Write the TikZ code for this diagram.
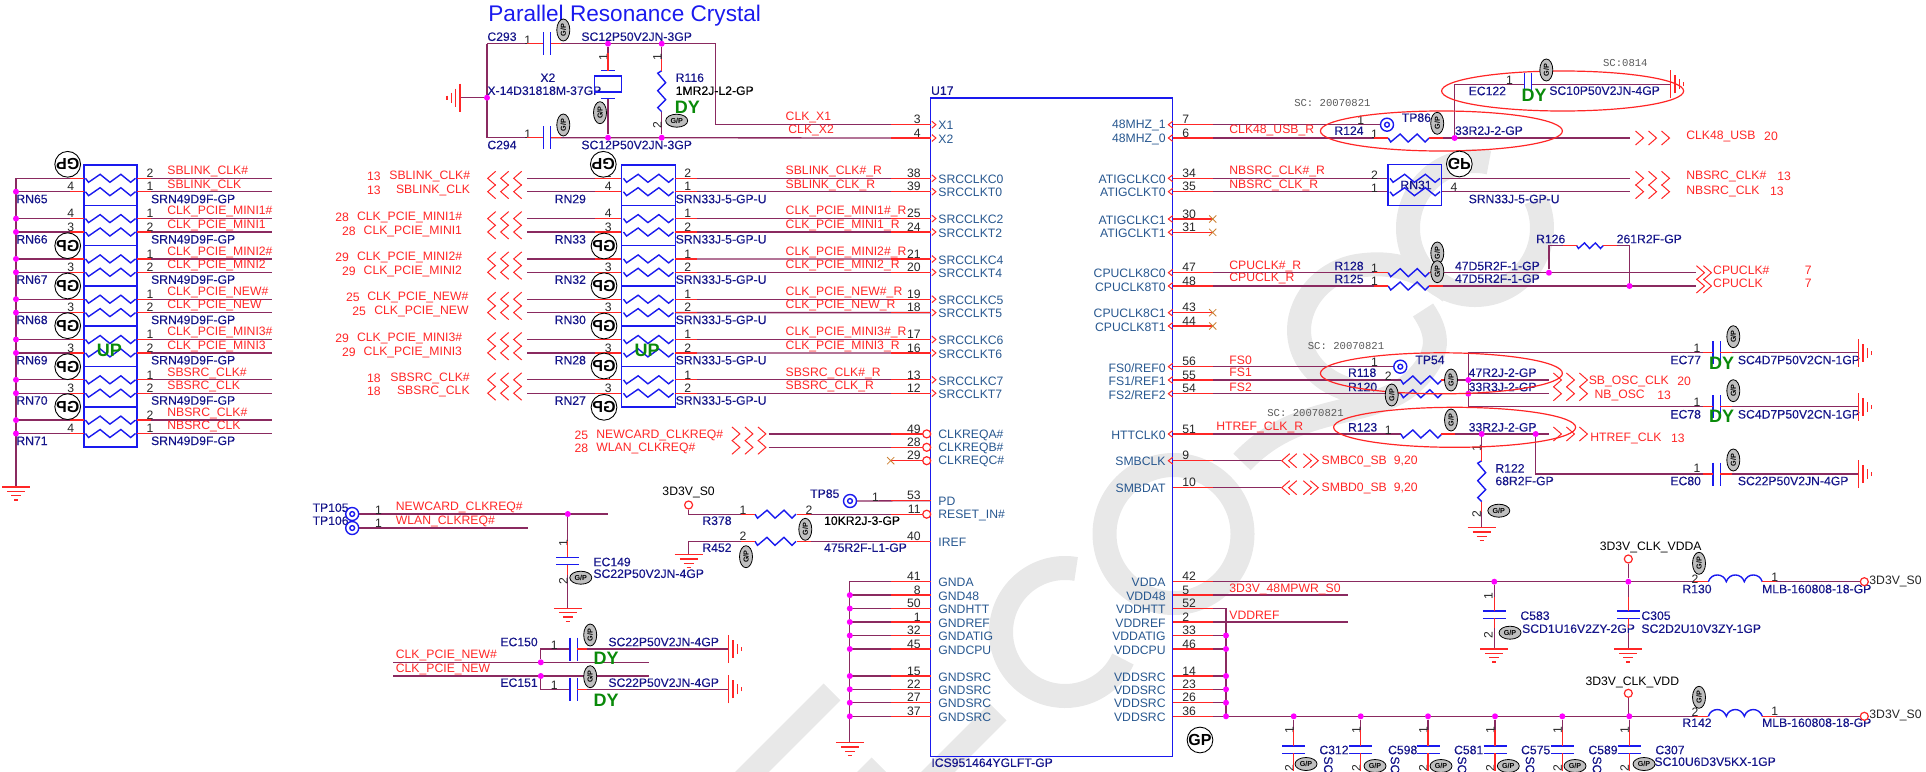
\documentclass[tikz,border=0pt]{standalone}
\usepackage{fontspec}
\setmainfont{Liberation Sans}
\newfontfamily\scfont{Liberation Mono}
\newfontfamily\reffont[FakeBold=0.2]{Liberation Sans}
\usetikzlibrary{shapes.geometric,shapes.misc,backgrounds}
\definecolor{wirec}{HTML}{8A2A60}
\definecolor{redc}{HTML}{FF2626}
\definecolor{navyc}{HTML}{15158A}
\definecolor{pinc}{HTML}{27578F}
\definecolor{bluec}{HTML}{1A1AEE}
\definecolor{greenc}{HTML}{0A8A0A}
\definecolor{dotc}{HTML}{FF00FF}
\begin{document}
\begin{tikzpicture}[
    x=0.5pt, y=-0.5pt,
    every node/.style={inner sep=0pt, font=\fontsize{6.1}{7}\selectfont},
    wire/.style={draw=wirec, line width=0.65pt},
    stub/.style={draw=redc, line width=0.65pt},
    res/.style={draw=bluec, line width=0.7pt},
    net/.style={anchor=west, text=redc},
    ref/.style={anchor=west, text=navyc, font=\reffont\fontsize{6.1}{7}\selectfont},
    blk/.style={anchor=west, text=black, font=\reffont\fontsize{6.1}{7}\selectfont},
    num/.style={text=black!85},
    pinname/.style={text=pinc},
    dot/.style={circle, fill=dotc, minimum size=3pt},
    rnbox/.style={rectangle, draw=bluec, line width=0.75pt, minimum height=20.15pt},
    chip/.style={rectangle, draw=bluec, line width=0.75pt, minimum width=121pt, minimum height=329.35pt},
    bigstamp/.style={circle, draw=black, line width=0.45pt, fill=white, minimum size=12.5pt, font=\fontsize{8}{9}\selectfont\bfseries},
    smallstamp/.style={ellipse, draw=black, line width=0.4pt, fill=black!25, minimum width=11pt, minimum height=6.5pt, font=\fontsize{3.6}{4}\selectfont\bfseries},
    tp/.style={circle, draw=bluec, line width=0.7pt, minimum size=6.5pt},
    pring/.style={circle, draw=redc, line width=0.6pt, fill=white, minimum size=4pt},
    xmark/.style={cross out, draw=brown!80!orange, line width=0.4pt, minimum size=3.2pt},
    halo/.style={ellipse, draw=redc, line width=0.6pt, minimum width=121pt},
    green/.style={text=greenc, font=\fontsize{9}{10}\selectfont\bfseries},
    note/.style={text=black!65, font=\scfont\fontsize{5.3}{6}\selectfont},
    wmark/.style={draw=black!9, line width=12pt},
    zigr/.pic={\draw[res] (0,0) -- (2.5,4) -- (12,-4) -- (20,4) -- (29,-4) -- (37,4) -- (41,0);},
    coil/.pic={\draw[res] (0,0) .. controls (3,-9) and (15,-9) .. (18,0) .. controls (21,-9) and (33,-9) .. (36,0) .. controls (39,-9) and (51,-9) .. (54,0);},
    capc/.pic={\draw[res] (-3.7,-11.5) -- (-3.7,11.5); \draw[res] (3.7,-11.5) -- (3.7,11.5);},
    gnd/.pic={\draw[stub] (-14,0) -- (14,0); \draw[stub] (-9,4.3) -- (9,4.3); \draw[stub] (-5,8.7) -- (5,8.7); \draw[stub] (-2,13) -- (2,13);},
    tri/.pic={\foreach \k in {0,13,26}{\draw[stub, line width=0.5pt] (\k,-7) -- (\k+8,0) -- (\k,7);}},
    duo/.pic={\foreach \k in {0,7}{\draw[stub, line width=0.5pt] (\k,-7) -- (\k+8,0) -- (\k,7);}},
]
\useasboundingbox (0,0) rectangle (1926,771);

% Watermark
\begin{scope}[on background layer]
\draw[wmark] (832,692) -- (735,789);
\draw[wmark] (998,712) -- (920,790);
\draw[wmark] (880,766) -- (850,796);
\draw[wmark] ([shift={(80:32pt)}]1065,632) arc (80:335:32pt);
\draw[wmark] (1173.5,534) circle (34.5pt);
\draw[wmark] ([shift={(78:33.5pt)}]1475,228) arc (78:385:33.5pt);
\draw[wmark] (1450,292) .. controls (1420,268) and (1390,262) .. (1365,265) .. controls (1325,268) and (1299,300) .. (1299,330) .. controls (1299,365) and (1330,392) .. (1375,394);
\draw[wmark] (1242,462) .. controls (1300,400) and (1375,420) .. (1415,380) .. controls (1440,355) and (1440,335) .. (1423,310);
\end{scope}

% Chip
\node[chip] (U17) at (1051.7,427.35) {};
\node[ref] (u17ref) at (930.7,90.7) {U17};
\node[ref] (u17part) at (931,762.7) {ICS951464YGLFT-GP};

% Left pins
\foreach \n/\y/\txt in {3/124.7/X1,4/138/X2,38/178.3/SRCCLKC0,39/191.7/SRCCLKT0,25/218.6/SRCCLKC2,24/232/SRCCLKT2,21/259/SRCCLKC4,20/272.3/SRCCLKT4,19/299.2/SRCCLKC5,18/312.6/SRCCLKT5,17/339.5/SRCCLKC6,16/353/SRCCLKT6,13/379.8/SRCCLKC7,12/393.2/SRCCLKT7,49/433.9/CLKREQA\#,28/447.3/CLKREQB\#,29/460.7/CLKREQC\#,53/500.7/PD,11/514.2/RESET\_IN\#,40/541.3/IREF,41/581.7/GNDA,8/595.1/GND48,50/608.5/GNDHTT,1/622/GNDREF,32/635.5/GNDATIG,45/649/GNDCPU,15/676/GNDSRC,22/689.3/GNDSRC,27/702.7/GNDSRC,37/716.3/GNDSRC}{
    \coordinate (pin\n) at (930.7,\y);
    \draw[stub] (pin\n) -- ++(-40,0);
    \node[pinname, anchor=west] (nm\n) at (938,\y+1) {\txt};
    \node[num, anchor=east] (no\n) at (921,\y-5) {\n};
}
\foreach \n in {3,4,38,39,25,24,21,20,19,18,17,16,13,12}{
    \draw[stub, line width=0.5pt] ([xshift=0.6pt,yshift=1.7pt]pin\n) -- ([xshift=2.6pt]pin\n) -- ([xshift=0.6pt,yshift=-1.7pt]pin\n);
}
\foreach \n in {49,28,29,11}{
    \node[pring] (rg\n) at ([xshift=-2pt]pin\n) {};
}

% Right pins
\foreach \n/\y/\txt in {7/124.7/48MHZ\_1,6/138/48MHZ\_0,34/178.3/ATIGCLKC0,35/191.7/ATIGCLKT0,30/219/ATIGCLKC1,31/232.3/ATIGCLKT1,47/272.7/CPUCLK8C0,48/286/CPUCLK8T0,43/312.7/CPUCLK8C1,44/326/CPUCLK8T1,56/366.7/FS0{/}REF0,55/380/FS1{/}REF1,54/393.7/FS2{/}REF2,51/434/HTTCLK0,9/460.7/SMBCLK,10/487.7/SMBDAT,42/581.7/VDDA,5/595.1/VDD48,52/608.5/VDDHTT,2/622/VDDREF,33/635.5/VDDATIG,46/649/VDDCPU,14/676/VDDSRC,23/689.3/VDDSRC,26/702.7/VDDSRC,36/716.3/VDDSRC}{
    \coordinate (pin\n) at (1172.7,\y);
    \draw[stub] (pin\n) -- ++(40,0);
    \node[pinname, anchor=east] (nm\n) at (1166,\y+1) {\txt};
    \node[num, anchor=west] (no\n) at (1182,\y-5) {\n};
}
\foreach \n in {7,6,34,35,30,31,47,48,43,44,56,55,54,51,9}{
    \draw[stub, line width=0.5pt] ([yshift=1.7pt]pin\n) -- ([xshift=-2.2pt]pin\n) -- ([yshift=-1.7pt]pin\n);
}
\foreach \n in {30,31,43,44}{
    \node[xmark] (xr\n) at ([xshift=20pt]pin\n) {};
}
\node[xmark] (xl29) at ([xshift=-20pt]pin29) {};

% Left resistor block
\foreach \rn/\ya/\la/\lb/\ra/\rb/\ta/\tb in {
    65/178.3/3/4/2/1/SBLINK\_CLK\#/SBLINK\_CLK,
    66/218.6/4/3/1/2/CLK\_PCIE\_MINI1\#/CLK\_PCIE\_MINI1,
    67/258.9/4/3/1/2/CLK\_PCIE\_MINI2\#/CLK\_PCIE\_MINI2,
    68/299.2/4/3/1/2/CLK\_PCIE\_NEW\#/CLK\_PCIE\_NEW,
    69/339.5/4/3/1/2/CLK\_PCIE\_MINI3\#/CLK\_PCIE\_MINI3,
    70/379.8/4/3/1/2/SBSRC\_CLK\#/SBSRC\_CLK,
    71/420.1/3/4/2/1/NBSRC\_CLK\#/NBSRC\_CLK}{
    \pgfmathsetmacro\yb{\ya+13.4}
    \node[rnbox, minimum width=26.5pt] (RN\rn) at (110.5,\ya+6.85) {};
    \coordinate (sa\rn) at (16,\ya);    \coordinate (sb\rn) at (16,\yb);
    \coordinate (la\rn) at (84,\ya);    \coordinate (lb\rn) at (84,\yb);
    \coordinate (ra\rn) at (137,\ya);   \coordinate (rb\rn) at (137,\yb);
    \coordinate (ea\rn) at (272,\ya);   \coordinate (eb\rn) at (272,\yb);
    \begin{scope}[on background layer]
    \draw[wire] (sa\rn) -- (la\rn);  \draw[wire] (sb\rn) -- (lb\rn);
    \draw[wire] (ra\rn) -- (ea\rn);  \draw[wire] (rb\rn) -- (eb\rn);
    \end{scope}
    \draw[stub] (la\rn) -- ++(-14,0);  \draw[stub] (lb\rn) -- ++(-14,0);
    \draw[stub] (ra\rn) -- ++(14,0);   \draw[stub] (rb\rn) -- ++(14,0);
    \pic[xscale=1.22] at (85.5,\ya) {zigr};
    \pic[xscale=1.22] at (85.5,\yb) {zigr};
    \node[num] (n\rn la) at (70.7,\ya-5) {\la};
    \node[num] (n\rn lb) at (70.7,\yb-5) {\lb};
    \node[num] (n\rn ra) at (150,\ya-5) {\ra};
    \node[num] (n\rn rb) at (150,\yb-5) {\rb};
    \node[net] (t\rn a) at (167,\ya-6.7) {\ta};
    \node[net] (t\rn b) at (167,\yb-6.7) {\tb};
    \node[ref] (rf\rn) at (16,\yb+7.3) {RN\rn};
    \node[ref] (pt\rn) at (150.7,\yb+7.3) {SRN49D9F-GP};
}
\coordinate (railend) at (16,487);
\draw[wire] (sa65) -- (railend);
\pic at (railend) {gnd};
\foreach \y [count=\i] in {191.7,218.6,232,258.9,272.3,299.2,312.6,339.5,352.9,379.8,393.2,420.1,433.5}{
    \node[dot] (jl\i) at (16,\y) {};
}
\node[green] (upa) at (109.3,350) {UP};

% Middle resistor block
\foreach \rn/\ya/\la/\lb/\ra/\rb/\pa/\pb/\ta/\tb in {
    29/178.3/2/4/2/1/38/39/SBLINK\_CLK\#\_R/SBLINK\_CLK\_R,
    33/218.6/4/3/1/2/25/24/CLK\_PCIE\_MINI1\#\_R/CLK\_PCIE\_MINI1\_R,
    32/258.9/4/3/1/2/21/20/CLK\_PCIE\_MINI2\#\_R/CLK\_PCIE\_MINI2\_R,
    30/299.2/4/3/1/2/19/18/CLK\_PCIE\_NEW\#\_R/CLK\_PCIE\_NEW\_R,
    28/339.5/4/3/1/2/17/16/CLK\_PCIE\_MINI3\#\_R/CLK\_PCIE\_MINI3\_R,
    27/379.8/4/3/1/2/13/12/SBSRC\_CLK\#\_R/SBSRC\_CLK\_R}{
    \pgfmathsetmacro\yb{\ya+13.4}
    \node[rnbox, minimum width=27pt] (RN\rn) at (648.3,\ya+6.85) {};
    \coordinate (sa\rn) at (527,\ya);   \coordinate (sb\rn) at (527,\yb);
    \coordinate (la\rn) at (621.3,\ya); \coordinate (lb\rn) at (621.3,\yb);
    \coordinate (ra\rn) at (675.3,\ya); \coordinate (rb\rn) at (675.3,\yb);
    \begin{scope}[on background layer]
    \draw[wire] (sa\rn) -- (la\rn);  \draw[wire] (sb\rn) -- (lb\rn);
    \draw[wire] (ra\rn) -- (pin\pa); \draw[wire] (rb\rn) -- (pin\pb);
    \end{scope}
    \draw[stub] (la\rn) -- ++(-26,0);  \draw[stub] (lb\rn) -- ++(-26,0);
    \draw[stub] (ra\rn) -- ++(22,0);   \draw[stub] (rb\rn) -- ++(22,0);
    \pic[xscale=1.22] at (623.5,\ya) {zigr};
    \pic[xscale=1.22] at (623.5,\yb) {zigr};
    \pic[xscale=-1] at (521.7,\ya) {tri};
    \pic[xscale=-1] at (521.7,\yb) {tri};
    \node[num] (n\rn la) at (608.3,\ya-5) {\la};
    \node[num] (n\rn lb) at (608.3,\yb-5) {\lb};
    \node[num] (n\rn ra) at (687.7,\ya-5) {\ra};
    \node[num] (n\rn rb) at (687.7,\yb-5) {\rb};
    \node[net] (t\rn a) at (785.3,\ya-6.7) {\ta};
    \node[net] (t\rn b) at (785.3,\yb-6.7) {\tb};
    \node[ref] (rf\rn) at (554.3,\yb+7.3) {RN\rn};
    \node[ref] (pt\rn) at (675.3,\yb+7.3) {SRN33J-5-GP-U};
}
\node[green] (upb) at (647,350) {UP};

% Nets with page numbers
\foreach \nx/\tx/\y/\no/\txt [count=\i] in {
    366.7/389/176.7/13/SBLINK\_CLK\#,
    366.7/395.7/190.7/13/SBLINK\_CLK,
    335/356.7/217.7/28/CLK\_PCIE\_MINI1\#,
    341.7/363.3/231/28/CLK\_PCIE\_MINI1,
    335/356.7/257.7/29/CLK\_PCIE\_MINI2\#,
    341.7/363.3/271/29/CLK\_PCIE\_MINI2,
    345.7/367/297.7/25/CLK\_PCIE\_NEW\#,
    352/374/311.7/25/CLK\_PCIE\_NEW,
    335/356.7/338.7/29/CLK\_PCIE\_MINI3\#,
    341.7/363.3/352/29/CLK\_PCIE\_MINI3,
    366.7/390/378.7/18/SBSRC\_CLK\#,
    366.7/396.7/391.7/18/SBSRC\_CLK,
    574.3/596/435/25/NEWCARD\_CLKREQ\#,
    574.3/596/448.7/28/WLAN\_CLKREQ\#,
    1763.8/1685.9/136.7/20/CLK48\_USB,
    1777/1685.9/176.7/13/NBSRC\_CLK\#,
    1769.7/1685.9/191/13/NBSRC\_CLK,
    1804.4/1712.8/270/7/CPUCLK\#,
    1804.4/1712.8/283/7/CPUCLK,
    1677/1588.4/381/20/SB\_OSC\_CLK,
    1656.9/1594.2/395/13/NB\_OSC,
    1670.6/1590/438/13/HTREF\_CLK,
    1393.5/1321.3/461/{9,20}/SMBC0\_SB,
    1393.5/1321.3/488/{9,20}/SMBD0\_SB}{
    \node[net] (pn\i) at (\nx,\y) {\no};
    \node[net] (pt\i) at (\tx,\y) {\txt};
}

% Other net names
\foreach \x/\y/\txt [count=\i] in {
    785.3/117.7/CLK\_X1, 788/130.7/CLK\_X2,
    395.5/507.7/NEWCARD\_CLKREQ\#, 395.5/521/WLAN\_CLKREQ\#,
    395.5/655.7/CLK\_PCIE\_NEW\#, 395.5/669/CLK\_PCIE\_NEW,
    1229/130.7/CLK48\_USB\_R, 1229/171.7/NBSRC\_CLK\#\_R, 1229/185/NBSRC\_CLK\_R,
    1229/266/CPUCLK\#\_R, 1229/278.7/CPUCLK\_R,
    1229/360/FS0, 1229/372.7/FS1, 1229/387/FS2, 1216/427.3/HTREF\_CLK\_R,
    1229/589/3D3V\_48MPWR\_S0, 1229/615.7/VDDREF}{
    \node[net] (nn\i) at (\x,\y) {\txt};
}

% Part labels
\foreach \x/\y/\txt [count=\i] in {
    487/36.7/C293, 581/36.7/SC12P50V2JN-3GP, 487/145/C294, 581/145/SC12P50V2JN-3GP,
    540/77.7/X2, 487/90.7/X-14D31818M-37GP, 675.3/77.7/R116,
    312.2/507.7/TP105, 312.2/520.7/TP106, 593/562/EC149, 593/573.7/SC22P50V2JN-4GP,
    809.8/493.7/TP85, 702/520.7/R378, 702/547.7/R452, 823.7/547.7/475R2F-L1-GP,
    500/642/EC150, 500/682.7/EC151, 608/642/SC22P50V2JN-4GP, 608/682.7/SC22P50V2JN-4GP,
    1334/130.7/R124, 1401.4/117.7/TP86, 1454.6/130.7/33R2J-2-GP,
    1468.3/91/EC122, 1548.9/90.7/SC10P50V2JN-4GP,
    1468.3/199/SRN33J-5-GP-U, 1334/266/R128, 1334/279/R125,
    1454.6/266/47D5R2F-1-GP, 1454.6/278.7/47D5R2F-1-GP,
    1535.7/239/R126, 1616.3/239/261R2F-GP,
    1415/360/TP54, 1347.6/372.7/R118, 1347.6/387/R120,
    1468.3/372.7/47R2J-2-GP, 1468.3/387/33R3J-2-GP,
    1347.6/427.3/R123, 1468.3/427.3/33R2J-2-GP,
    1495/468.3/R122, 1495/481/68R2F-GP,
    1670/360/EC77, 1737.5/360/SC4D7P50V2CN-1GP,
    1670/414.3/EC78, 1737.5/414.3/SC4D7P50V2CN-1GP,
    1670/481/EC80, 1737.5/481/SC22P50V2JN-4GP,
    1520/615.7/C583, 1521.7/628.7/SCD1U16V2ZY-2GP,
    1641/615.7/C305, 1641/628.7/SC2D2U10V3ZY-1GP,
    1682/589/R130, 1761.7/589/MLB-160808-18-GP,
    1682/722.7/R142, 1761.7/722.7/MLB-160808-18-GP,
    1319/750/C312, 1387.7/750/C598, 1453.7/750/C581, 1520.7/750/C575, 1588/750/C589, 1655/750/C307,
    1654/761.7/SC10U6D3V5KX-1GP}{
    \node[ref] (pl\i) at (\x,\y) {\txt};
}
\node[ref, anchor=center] (rn31t) at (1416,185) {RN31};

% Black labels
\foreach \x/\y/\txt [count=\i] in {
    675.3/90.7/1MR2J-L2-GP, 823.7/520.7/10KR2J-3-GP}{
    \node[blk] (bl\i) at (\x,\y) {\txt};
}
\node[num, anchor=west] (bs1) at (1869,581) {3D3V\_S0};
\node[num, anchor=west] (bs2) at (1869,715) {3D3V\_S0};
\node[text=black] (pwra) at (688.6,492) {3D3V\_S0};
\node[text=black] (pwrb) at (1650.7,547.7) {3D3V\_CLK\_VDDA};
\node[text=black] (pwrc) at (1632.3,682.7) {3D3V\_CLK\_VDD};

% Rotated part text
\foreach \x [count=\i] in {1328.3,1395,1462,1530,1597}{
    \node[ref, rotate=-90, anchor=west] (sc\i) at (\x,756) {SC};
}

% Pin numbers
\foreach \x/\y/\t [count=\i] in {
    527.7/40.7/1, 527.7/134.3/1, 378.4/510/1, 378.4/523.5/1,
    742.9/510/1, 809/510/2, 742.9/536.7/2, 875.5/497/1,
    554.3/645/1, 554.3/685/1, 1360.8/120/1, 1374.5/134/1,
    1374.5/175/2, 1374.5/188/1, 1454/187.7/4,
    1374.5/268/1, 1374.5/281.7/1, 1374.5/362.7/1, 1388.2/376/2, 1388.2/430/1,
    1509.4/80/1, 1697/348.3/1, 1697/402/1, 1697/468.3/1,
    1774.7/577.7/1, 1695/579/2, 1774.7/711/1, 1695/712/2}{
    \node[num] (pa\i) at (\x,\y) {\t};
}
\foreach \x/\y/\t [count=\i] in {
    603.3/57.3/1, 657.3/57.3/1, 657.3/125/2, 563.3/542.7/1, 563.3/581/2,
    1476.7/447.7/1, 1476.7/514.3/2, 1488.3/595.7/1, 1488.3/635/2,
    1289.3/730/1, 1356.3/730/1, 1423.3/730/1, 1490.3/730/1, 1557.7/730/1, 1624.7/730/1,
    1289.3/768/2, 1356.3/768/2, 1423.3/768/2, 1490.3/768/2, 1557.7/768/2, 1624.7/768/2}{
    \node[num, rotate=90] (pb\i) at (\x,\y) {\t};
}

% Crystal
\node[text=bluec, anchor=west, font=\fontsize{11.3}{13}\selectfont] (title) at (488,16) {Parallel Resonance Crystal};
\coordinate (xtl) at (487,43.7);
\coordinate (xbl) at (487,137.7);
\coordinate (xgm) at (460,97.7);
\coordinate (xtr) at (715.3,43.7);
\coordinate (xtd) at (715.3,124.7);
\node[dot] (jxg) at (487,97.7) {};
\node[dot] (jxa) at (608,43.7) {};
\node[dot] (jxb) at (661.7,43.7) {};
\node[dot] (jxc) at (608,137.7) {};
\node[dot] (jxd) at (661.7,137.7) {};
\coordinate (c293) at (547,43.7);
\coordinate (c294) at (547,137.7);
\pic at (c293) {capc};
\pic at (c294) {capc};
\pic[rotate=-90] at (xgm) {gnd};
\coordinate (xup) at (608,70.7);
\coordinate (xlo) at (608,98.3);
\node[draw=bluec, line width=0.7pt, minimum width=13.7pt, minimum height=8pt] (X2) at (608,84) {};
\draw[res] (601,70.7) -- (615,70.7);
\draw[res] (601,98.3) -- (615,98.3);
\coordinate (r116t) at (661.7,70.7);
\coordinate (r116b) at (661.7,111.7);
\pic[rotate=-90] at (r116t) {zigr};
\node[green] (dya) at (687.3,107.7) {DY};
\begin{scope}[on background layer]
\draw[wire] (xtl) -- (xbl);
\draw[wire] (xgm) -- (jxg);
\draw[wire] (xtl) -- ([xshift=-1.85pt]c293);
\draw[wire] ([xshift=1.85pt]c293) -- (xtr) -- (xtd) -- (pin3);
\draw[wire] (xbl) -- ([xshift=-1.85pt]c294);
\draw[wire] ([xshift=1.85pt]c294) -- (pin4);
\draw[wire] (jxa) -- (xup);
\draw[wire] (xlo) -- (jxc);
\draw[wire] (jxb) -- (r116t);
\draw[wire] (r116b) -- (jxd);
\end{scope}
\draw[stub] ([xshift=-1.85pt]c293) -- ++(-16,0);
\draw[stub] ([xshift=1.85pt]c293) -- ++(10,0);
\draw[stub] ([xshift=-1.85pt]c294) -- ++(-16,0);
\draw[stub] ([xshift=1.85pt]c294) -- ++(10,0);
\draw[stub] (xup) -- ++(0,-18);
\draw[stub] (r116t) -- ++(0,-12);

% Test points and clock requests
\node[tp] (TP105) at (352.2,514) {};
\node[tp] (TP106) at (352.2,528) {};
\node[tp] (TP85) at (850,501) {};
\foreach \n in {TP105,TP106,TP85}{ \draw[res] (\n) circle (1.2pt); }
\coordinate (w105) at (608,514);
\coordinate (w106) at (527.8,528);
\node[dot] (jec149) at (567.8,514) {};
\coordinate (ec149) at (567.8,561);
\pic[rotate=90] at (ec149) {capc};
\coordinate (gec149) at (567.8,608.3);
\pic at (gec149) {gnd};
\node[pring] (pw3) at (688.6,505) {};
\coordinate (r378c) at (688.6,514.2);
\coordinate (r378l) at (755,514.2);
\coordinate (r378r) at (797,514.2);
\coordinate (r452c) at (688.6,541.3);
\coordinate (r452l) at (755,541.3);
\coordinate (r452r) at (797,541.3);
\coordinate (gr452) at (688.6,554.7);
\pic at (r378l) {zigr};
\pic at (r452l) {zigr};
\pic at (gr452) {gnd};
\begin{scope}[on background layer]
\draw[wire] (TP105) -- (w105);
\draw[wire] (TP106) -- (w106);
\draw[wire] (jec149) -- ([yshift=1.85pt]ec149);
\draw[wire] ([yshift=-1.85pt]ec149) -- (gec149);
\draw[wire] (pw3) -- (r378c) -- (r378l);
\draw[wire] (r378r) -- (pin11);
\draw[wire] (gr452) -- (r452c) -- (r452l);
\draw[wire] (r452r) -- (pin40);
\draw[wire] (TP85) -- (pin53);
\end{scope}
\draw[stub] ([yshift=1.85pt]ec149) -- ++(0,-16);
\draw[stub] ([yshift=-1.85pt]ec149) -- ++(0,10);
\draw[stub] (r378l) -- ++(-14,0);
\draw[stub] (r378r) -- ++(14,0);
\draw[stub] (r452l) -- ++(-14,0);
\draw[stub] (r452r) -- ++(14,0);

% CLKREQ and EC150, EC151
\foreach \n in {49,28}{
    \coordinate (q\n) at ([xshift=-81pt]pin\n);
    \begin{scope}[on background layer] \draw[wire] (q\n) -- (pin\n); \end{scope}
    \pic at ([xshift=-99.4pt]pin\n) {tri};
}
\coordinate (b1l) at (393,662.3);  \coordinate (b1r) at (649,662.3);
\coordinate (b2l) at (393,676);    \coordinate (b2r) at (649,676);
\node[dot] (jb1) at (540.8,662.3) {};
\node[dot] (jb2) at (540.8,676) {};
\coordinate (t150) at (540.8,649);  \coordinate (t151) at (540.8,689.3);
\coordinate (ec150) at (573.5,649); \coordinate (ec151) at (573.5,689.3);
\coordinate (g150) at (728.6,649);  \coordinate (g151) at (728.6,689.3);
\pic at (ec150) {capc};
\pic at (ec151) {capc};
\pic[rotate=90] at (g150) {gnd};
\pic[rotate=90] at (g151) {gnd};
\begin{scope}[on background layer]
\draw[wire] (b1l) -- (b1r);
\draw[wire] (b2l) -- (b2r);
\draw[wire] (jb1) -- (t150) -- ([xshift=-1.85pt]ec150);
\draw[wire] (jb2) -- (t151) -- ([xshift=-1.85pt]ec151);
\draw[wire] ([xshift=1.85pt]ec150) -- (g150);
\draw[wire] ([xshift=1.85pt]ec151) -- (g151);
\end{scope}
\draw[stub] ([xshift=1.85pt]ec150) -- ++(10,0);
\draw[stub] ([xshift=1.85pt]ec151) -- ++(10,0);
\node[green] (dyb) at (606,658.7) {DY};
\node[green] (dyc) at (606,700) {DY};

% GND rail
\coordinate (gndt) at (849.8,581.7);
\coordinate (gndb) at (849.8,742.7);
\begin{scope}[on background layer]
\draw[wire] (pin41) -- (gndt) -- (gndb);
\foreach \n in {8,50,1,32,45,15,22,27,37}{ \draw[wire] (pin\n) -- (gndt |- pin\n); }
\end{scope}
\foreach \n in {8,50,1,32,45,15,22,27,37}{ \node[dot] (jg\n) at (gndt |- pin\n) {}; }
\pic at (gndb) {gnd};

% CLK48 and EC122
\node[tp] (TP86) at (1387,124.7) {};
\draw[res] (TP86) circle (1.2pt);
\coordinate (r124l) at (1388.2,138);
\coordinate (r124r) at (1429.3,138);
\coordinate (usbe) at (1629.5,138);
\node[dot] (j124) at (1454.6,138) {};
\coordinate (t122) at (1454.6,84.3);
\coordinate (ec122) at (1528,84.3);
\coordinate (g122) at (1670.6,84.3);
\pic at (r124l) {zigr};
\pic at (ec122) {capc};
\pic[rotate=90] at (g122) {gnd};
\pic at ([xshift=3pt]usbe) {tri};
\begin{scope}[on background layer]
\draw[wire] (pin7) -- (TP86);
\draw[wire] (pin6) -- (r124l);
\draw[wire] (r124r) -- (usbe);
\draw[wire] (j124) -- (t122) -- ([xshift=-1.85pt]ec122);
\draw[wire] ([xshift=1.85pt]ec122) -- (g122);
\end{scope}
\draw[stub] (r124l) -- ++(-14,0);
\draw[stub] (r124r) -- ++(14,0);
\node[green] (dyd) at (1534,95) {DY};
\node[note] (sca) at (1625.3,63.3) {SC:0814};
\node[note] (scb) at (1332.4,103.3) {SC: 20070821};
\node[halo, minimum height=20pt] (elA) at (1562.6,91) {};
\node[halo, minimum height=20pt] (elB) at (1441.4,131) {};

% NBSRC
\node[rnbox, minimum width=26.6pt, minimum height=20.5pt] (RN31) at (1414.8,184.8) {};
\pic[xscale=1.22] at (1390,178.3) {zigr};
\pic[xscale=1.22] at (1390,191.7) {zigr};
\coordinate (n31a) at (1629.5,178.3);
\coordinate (n31b) at (1629.5,191.7);
\pic at ([xshift=3pt]n31a) {tri};
\pic at ([xshift=3pt]n31b) {tri};
\begin{scope}[on background layer]
\draw[wire] (pin34) -- (RN31.west |- pin34);
\draw[wire] (pin35) -- (RN31.west |- pin35);
\draw[wire] (RN31.east |- pin34) -- (n31a);
\draw[wire] (RN31.east |- pin35) -- (n31b);
\end{scope}

% CPU clocks
\coordinate (r128l) at (1388.2,272.7);  \coordinate (r128r) at (1429.3,272.7);
\coordinate (r125l) at (1388.2,286);    \coordinate (r125r) at (1429.3,286);
\coordinate (cpua) at (1696.4,272.7);   \coordinate (cpub) at (1696.4,286);
\node[dot] (j126a) at (1548.9,272.7) {};
\node[dot] (j126b) at (1629.5,286) {};
\coordinate (t126a) at (1548.9,245.7);  \coordinate (t126b) at (1629.5,245.7);
\coordinate (r126l) at (1576.8,245.7);  \coordinate (r126r) at (1603.2,245.7);
\pic at (r128l) {zigr};
\pic at (r125l) {zigr};
\pic[xscale=0.64,yscale=0.7] at (r126l) {zigr};
\pic at (cpua) {duo};
\pic at (cpub) {duo};
\begin{scope}[on background layer]
\draw[wire] (pin47) -- (r128l);
\draw[wire] (pin48) -- (r125l);
\draw[wire] (r128r) -- (cpua);
\draw[wire] (r125r) -- (cpub);
\draw[wire] (j126a) -- (t126a) -- (r126l);
\draw[wire] (r126r) -- (t126b) -- (j126b);
\end{scope}
\foreach \a in {r128l,r125l}{ \draw[stub] (\a) -- ++(-14,0); }
\foreach \a in {r128r,r125r}{ \draw[stub] (\a) -- ++(14,0); }
\draw[stub] (r126l) -- ++(-14,0);
\draw[stub] (r126r) -- ++(14,0);

% FS pins
\node[tp] (TP54) at (1400.3,366.7) {};
\draw[res] (TP54) circle (1.2pt);
\coordinate (r118l) at (1400.8,380);    \coordinate (r118r) at (1441.4,380);
\coordinate (r120l) at (1400.8,393.7);  \coordinate (r120r) at (1441.4,393.7);
\coordinate (fs1e) at (1549.4,380);     \coordinate (fs2e) at (1549.4,393.7);
\node[dot] (jfa) at (1468.3,380) {};
\node[dot] (jfb) at (1468.3,393.7) {};
\coordinate (t77) at (1468.3,352.7);    \coordinate (t78) at (1468.3,406.7);
\coordinate (ec77) at (1716.7,352.7);   \coordinate (ec78) at (1716.7,406.7);
\coordinate (g77) at (1858.7,352.7);    \coordinate (g78) at (1858.7,406.7);
\pic at (r118l) {zigr};
\pic at (r120l) {zigr};
\pic at ([xshift=2pt]fs1e) {tri};
\pic at ([xshift=2pt]fs2e) {tri};
\pic at (ec77) {capc};
\pic at (ec78) {capc};
\pic[rotate=90] at (g77) {gnd};
\pic[rotate=90] at (g78) {gnd};
\begin{scope}[on background layer]
\draw[wire] (pin56) -- (TP54);
\draw[wire] (pin55) -- (r118l);
\draw[wire] (pin54) -- (r120l);
\draw[wire] (r118r) -- (fs1e);
\draw[wire] (r120r) -- (fs2e);
\draw[wire] (t77) -- (t78);
\draw[wire] (t77) -- ([xshift=-1.85pt]ec77);
\draw[wire] (t78) -- ([xshift=-1.85pt]ec78);
\draw[wire] ([xshift=1.85pt]ec77) -- (g77);
\draw[wire] ([xshift=1.85pt]ec78) -- (g78);
\end{scope}
\foreach \a in {r118r,r120r}{ \draw[stub] (\a) -- ++(14,0); }
\foreach \a in {ec77,ec78}{ \draw[stub] ([xshift=1.85pt]\a) -- ++(12,0); \draw[stub] ([xshift=-1.85pt]\a) -- ++(-10,0); }
\node[green] (dye) at (1721.7,363.3) {DY};
\node[green] (dyf) at (1721.7,416.7) {DY};
\node[note] (scc) at (1346,345.7) {SC: 20070821};
\node[note] (scd) at (1305.5,413.3) {SC: 20070821};
\node[halo, minimum height=20.5pt] (elC) at (1441.4,373.3) {};
\node[halo, minimum height=20pt] (elD) at (1454.6,427.3) {};

% HTREF
\coordinate (r123l) at (1400.8,434);    \coordinate (r123r) at (1441.4,434);
\coordinate (htte) at (1549.4,434);
\node[dot] (jha) at (1481.7,434) {};
\node[dot] (jhb) at (1535.7,434) {};
\coordinate (r122t) at (1481.7,460.7);  \coordinate (r122b) at (1481.7,501.7);
\coordinate (gr122) at (1481.7,527.7);
\coordinate (t80) at (1535.7,474);
\coordinate (ec80) at (1716.7,474);     \coordinate (g80) at (1858.7,474);
\pic at (r123l) {zigr};
\pic[rotate=-90] at (r122t) {zigr};
\pic at (gr122) {gnd};
\pic at (ec80) {capc};
\pic[rotate=90] at (g80) {gnd};
\pic at ([xshift=2pt]htte) {tri};
\begin{scope}[on background layer]
\draw[wire] (pin51) -- (r123l);
\draw[wire] (r123r) -- (htte);
\draw[wire] (jha) -- (r122t);
\draw[wire] (r122b) -- (gr122);
\draw[wire] (jhb) -- (t80) -- ([xshift=-1.85pt]ec80);
\draw[wire] ([xshift=1.85pt]ec80) -- (g80);
\end{scope}
\draw[stub] (r123r) -- ++(14,0);
\draw[stub] (r122t) -- ++(0,-12);
\draw[stub] (r122b) -- ++(0,10);
\draw[stub] ([xshift=1.85pt]ec80) -- ++(12,0);
\draw[stub] ([xshift=-1.85pt]ec80) -- ++(-10,0);

% SMBus
\foreach \n in {9,10}{
    \coordinate (sm\n) at ([xshift=54pt]pin\n);
    \begin{scope}[on background layer] \draw[wire] (pin\n) -- (sm\n); \end{scope}
    \pic[xscale=-1] at ([xshift=62pt]pin\n) {duo};
    \pic at ([xshift=65.3pt]pin\n) {duo};
}

% Power rails
\coordinate (l130) at (1708.3,581.7);   \coordinate (r130) at (1762.3,581.7);
\coordinate (l142) at (1708.3,716.3);   \coordinate (r142) at (1762.3,716.3);
\node[pring] (rgA) at (1864.3,581.7) {};
\node[pring] (rgB) at (1864.3,716.3) {};
\node[pring] (rgC) at (1628.3,559) {};
\node[pring] (rgD) at (1628.3,693.3) {};
\pic at (l130) {coil};
\pic at (l142) {coil};
\node[dot] (jc583) at (1494.3,581.7) {};
\node[dot] (jc305) at (1628.3,581.7) {};
\coordinate (c583) at (1494.3,614.7);   \coordinate (c305) at (1628.3,614.7);
\coordinate (g583) at (1494.3,649);     \coordinate (g305) at (1628.3,649);
\pic[rotate=90] at (c583) {capc};
\pic[rotate=90] at (c305) {capc};
\pic at (g583) {gnd};
\pic at (g305) {gnd};
\coordinate (v48e) at (1347.7,595.1);
\coordinate (vrefe) at (1347.7,622);
\coordinate (vt) at (1226,608.5);
\coordinate (vb) at (1226,716.3);
\begin{scope}[on background layer]
\draw[wire] (pin42) -- (l130);
\draw[wire] (r130) -- (rgA);
\draw[wire] (pin5) -- (v48e);
\draw[wire] (pin2) -- (vrefe);
\draw[wire] (pin52) -- (vt) -- (vb);
\draw[wire] (pin36) -- (l142);
\draw[wire] (r142) -- (rgB);
\draw[wire] (rgC) -- (jc305);
\draw[wire] (rgD) -- (l142 -| rgD);
\foreach \n in {33,46,14,23,26}{ \draw[wire] (pin\n) -- (vt |- pin\n); }
\draw[wire] (jc583) -- ([yshift=1.85pt]c583);
\draw[wire] (jc305) -- ([yshift=1.85pt]c305);
\draw[wire] ([yshift=-1.85pt]c583) -- (g583);
\draw[wire] ([yshift=-1.85pt]c305) -- (g305);
\end{scope}
\foreach \n in {33,46,14,23,26}{ \node[dot] (jv\n) at (vt |- pin\n) {}; }
\node[dot] (jv36) at (vb) {};
\foreach \a in {l130,l142}{ \draw[stub] (\a) -- ++(-14,0); }
\foreach \a in {r130,r142}{ \draw[stub] (\a) -- ++(14,0); }
\foreach \a in {c583,c305}{ \draw[stub] ([yshift=1.85pt]\a) -- ++(0,-14); \draw[stub] ([yshift=-1.85pt]\a) -- ++(0,10); }

% Decoupling caps
\foreach \x [count=\i] in {1293.7,1360.7,1428,1495,1562.3,1629.3}{
    \node[dot] (jd\i) at (\x,716.3) {};
    \coordinate (cd\i) at (\x,749.6);
    \coordinate (ed\i) at (\x,771);
    \pic[rotate=90] at (cd\i) {capc};
    \begin{scope}[on background layer]
    \draw[wire] (jd\i) -- ([yshift=1.85pt]cd\i);
    \draw[wire] ([yshift=-1.85pt]cd\i) -- (ed\i);
    \end{scope}
    \draw[stub] ([yshift=1.85pt]cd\i) -- ++(0,-16);
    \draw[stub] ([yshift=-1.85pt]cd\i) -- (ed\i);
}

% Stamps
\node[bigstamp] (gp0) at (1200,740) {GP};
\foreach \x/\y [count=\i] in {67.7/164.3,603.3/164.3}{
    \node[bigstamp, rotate=180] (gpa\i) at (\x,\y) {GP};
}
\foreach \x/\y [count=\i] in {67.7/245.7,67.7/286,67.7/325.7,67.7/366.7,67.7/406.7,604/246,604/285.7,604/326,604/366,604/407.3}{
    \node[bigstamp, xscale=-1] (gpb\i) at (\x,\y) {GP};
}
\node[bigstamp, yscale=-1] (gpc) at (1459.3,164) {GP};
\foreach \x/\y [count=\i] in {
    563.3/30, 563.3/125, 600/112.7, 805.3/529.3, 746/556.7, 590.2/635, 590.2/676.7,
    1699/563.3, 1699/697.3, 1546.3/70, 1437.2/123.3, 1437.3/253, 1437.3/271.7,
    1451/380, 1391.7/395, 1451/420, 1733.3/336.7, 1733.3/390.7, 1733.3/460}{
    \node[smallstamp, rotate=90] (gv\i) at (\x,\y) {G/P};
}
\foreach \x/\y [count=\i] in {
    676.7/120.7, 580.8/577.7, 1510/632.7, 1498.8/510.7,
    1306/764, 1375/766, 1441/766, 1508.3/766, 1575/766, 1644/764}{
    \node[smallstamp] (gh\i) at (\x,\y) {G/P};
}
\end{tikzpicture}
\end{document}
